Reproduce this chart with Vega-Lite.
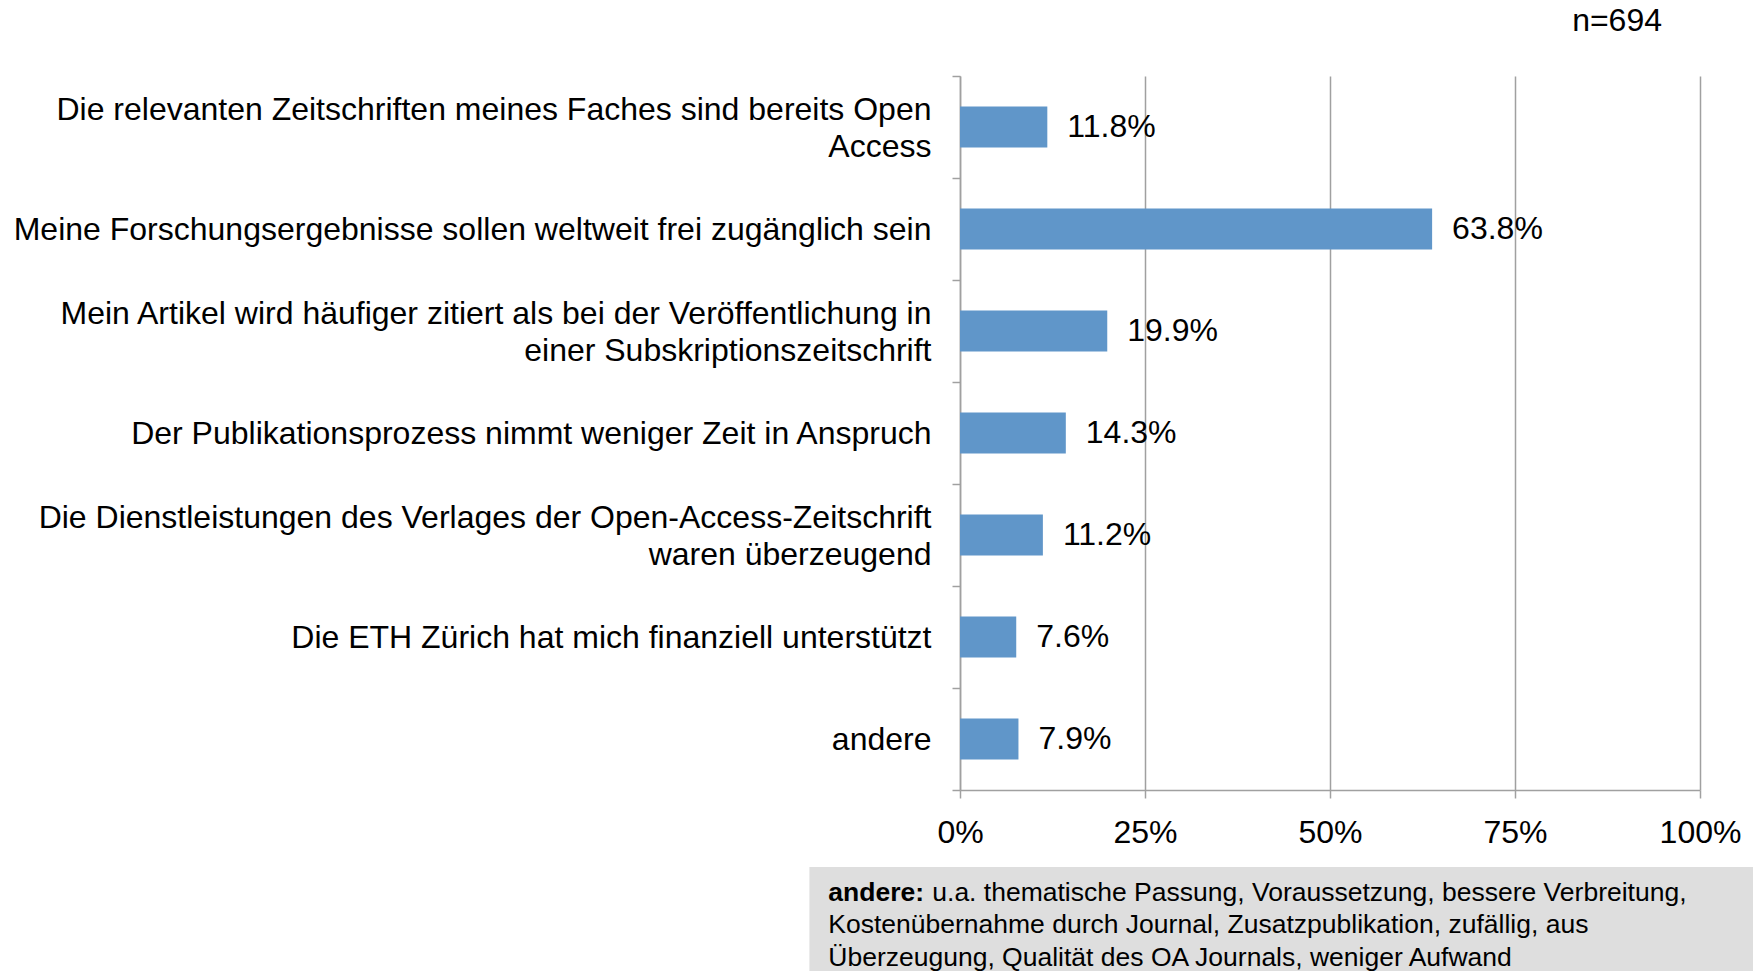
{
  "$schema": "https://vega.github.io/schema/vega-lite/v6.json",
  "background": "white",
  "padding": {"left": 5, "top": 5, "right": 0, "bottom": 0},
  "config": {"font": "Liberation Sans", "view": {"stroke": null}, "text": {"font": "Liberation Sans", "color": "black"}},
  "spacing": 19,
  "datasets": {
    "reasons": [
      {"reason": "Die relevanten Zeitschriften meines Faches sind bereits Open|Access", "share": 0.118},
      {"reason": "Meine Forschungsergebnisse sollen weltweit frei zugänglich sein", "share": 0.638},
      {"reason": "Mein Artikel wird häufiger zitiert als bei der Veröffentlichung in|einer Subskriptionszeitschrift", "share": 0.199},
      {"reason": "Der Publikationsprozess nimmt weniger Zeit in Anspruch\u2002", "share": 0.143},
      {"reason": "Die Dienstleistungen des Verlages der Open-Access-Zeitschrift|waren überzeugend", "share": 0.112},
      {"reason": "Die ETH Zürich hat mich finanziell unterstützt", "share": 0.076},
      {"reason": "andere", "share": 0.079}
    ],
    "note": [
      {"line": 1, "part": "bold", "text": "andere:"},
      {"line": 1, "part": "rest", "text": "u.a. thematische Passung, Voraussetzung, bessere Verbreitung,"},
      {"line": 2, "part": "plain", "text": "Kostenübernahme durch Journal, Zusatzpublikation, zufällig, aus"},
      {"line": 3, "part": "plain", "text": "Überzeugung, Qualität des OA Journals, weniger Aufwand"}
    ]
  },
  "vconcat": [
    {
      "width": 740,
      "height": 714,
      "title": {"text": "n=694", "anchor": "end", "frame": "group", "fontSize": 32, "fontWeight": "normal", "color": "black", "font": "Liberation Sans", "offset": 24, "dx": -38, "dy": 2},
      "data": {"name": "reasons"},
      "encoding": {
        "y": {
          "field": "reason", "type": "nominal", "sort": null,
          "scale": {"paddingInner": 0, "paddingOuter": 0},
          "axis": {
            "title": null, "labelExpr": "split(datum.label, '|')", "labelFontSize": 32, "labelFont": "Liberation Sans",
            "labelColor": "black", "labelLineHeight": 37, "labelPadding": 21, "labelLimit": 0,
            "labelOffset": {"condition": {"test": "indexof(datum.label, '|') >= 0", "value": -18}, "value": 0},
            "tickSize": 8, "tickColor": "#A0A0A0", "tickWidth": 1.5, "tickBand": "extent",
            "domainColor": "#A0A0A0", "domainWidth": 1.5, "minExtent": 955, "maxExtent": 955
          }
        },
        "x": {
          "field": "share", "type": "quantitative",
          "scale": {"domain": [0, 1]},
          "axis": {
            "title": null, "values": [0, 0.25, 0.5, 0.75, 1], "format": ".0%", "labelFontSize": 32, "labelFont": "Liberation Sans",
            "labelColor": "black", "labelPadding": 19, "labelFlush": false,
            "grid": true, "gridColor": "#A0A0A0", "gridWidth": 1.5,
            "tickSize": 8, "tickColor": "#A0A0A0", "tickWidth": 1.5,
            "domainColor": "#A0A0A0", "domainWidth": 1.5
          }
        }
      },
      "layer": [
        {"mark": {"type": "bar", "color": "#6096C9", "height": {"band": 0.4}}},
        {"mark": {"type": "text", "align": "left", "baseline": "middle", "dx": 20, "fontSize": 32, "font": "Liberation Sans", "color": "black"},
         "encoding": {"text": {"field": "share", "type": "quantitative", "format": ".1%"}}}
      ]
    },
    {
      "width": 740,
      "height": 105,
      "data": {"name": "note"},
      "layer": [
        {"mark": {"type": "rect", "color": "#DEDEDE"},
         "encoding": {
           "x": {"datum": -0.203, "type": "quantitative", "scale": {"domain": [0, 1]}, "axis": null},
           "x2": {"datum": 1.072}
         }},
        {"transform": [{"filter": "datum.part == 'bold'"}],
         "mark": {"type": "text", "align": "left", "baseline": "middle", "fontSize": 26.5, "fontWeight": "bold", "font": "Liberation Sans", "color": "black"},
         "encoding": {
           "x": {"datum": -0.178, "type": "quantitative"},
           "y": {"field": "line", "type": "ordinal", "scale": {"type": "point", "padding": 0.615, "align": 0.65}, "axis": null},
           "text": {"field": "text"}
         }},
        {"transform": [{"filter": "datum.part == 'rest'"}],
         "mark": {"type": "text", "align": "left", "baseline": "middle", "dx": 104, "fontSize": 26.5, "font": "Liberation Sans", "color": "black"},
         "encoding": {
           "x": {"datum": -0.178, "type": "quantitative"},
           "y": {"field": "line", "type": "ordinal", "axis": null},
           "text": {"field": "text"}
         }},
        {"transform": [{"filter": "datum.part == 'plain'"}],
         "mark": {"type": "text", "align": "left", "baseline": "middle", "fontSize": 26.5, "font": "Liberation Sans", "color": "black"},
         "encoding": {
           "x": {"datum": -0.178, "type": "quantitative"},
           "y": {"field": "line", "type": "ordinal", "axis": null},
           "text": {"field": "text"}
         }}
      ]
    }
  ]
}
